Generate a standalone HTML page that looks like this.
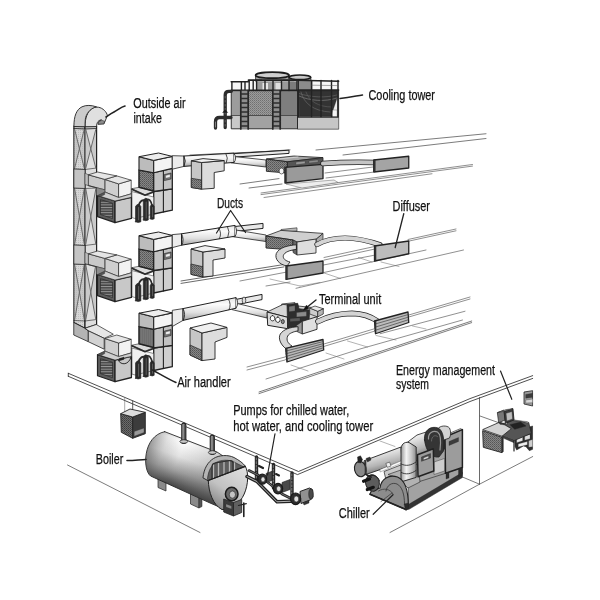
<!DOCTYPE html>
<html><head><meta charset="utf-8"><title>HVAC system</title>
<style>
html,body{margin:0;padding:0;background:#fff;}
svg{display:block;filter:grayscale(1);}
text{font-family:"Liberation Sans",sans-serif;fill:#111;stroke:#111;stroke-width:0.25px;}
</style></head><body>
<svg width="600" height="600" viewBox="0 0 600 600">
<defs>
<pattern id="dots" width="2" height="2" patternUnits="userSpaceOnUse"><rect width="2" height="2" fill="#d6d6d6"/><rect width="1" height="1" fill="#bdbdbd"/></pattern>
<pattern id="hatch" width="2" height="2" patternUnits="userSpaceOnUse"><rect width="2" height="2" fill="#868686"/><rect width="1" height="1" fill="#555"/><rect x="1" y="1" width="1" height="1" fill="#666"/></pattern>
<pattern id="hatchL" width="2" height="2" patternUnits="userSpaceOnUse"><rect width="2" height="2" fill="#9c9c9c"/><rect width="1" height="1" fill="#707070"/><rect x="1" y="1" width="1" height="1" fill="#828282"/></pattern>
<pattern id="hatchD" width="2" height="2" patternUnits="userSpaceOnUse"><rect width="2" height="2" fill="#6c6c6c"/><rect width="1" height="1" fill="#3c3c3c"/><rect x="1" y="1" width="1" height="1" fill="#4a4a4a"/></pattern>
<pattern id="slats" width="4" height="2.6" patternUnits="userSpaceOnUse"><rect width="4" height="2.6" fill="#444"/><rect y="0" width="4" height="1" fill="#999"/></pattern>
<linearGradient id="cyl" x1="0" y1="0" x2="0" y2="1"><stop offset="0" stop-color="#e4e4e4"/><stop offset="0.3" stop-color="#fbfbfb"/><stop offset="0.65" stop-color="#e0e0e0"/><stop offset="1" stop-color="#a4a4a4"/></linearGradient>
</defs>
<rect width="600" height="600" fill="#fff"/>
<line x1="190.00" y1="155.00" x2="286.00" y2="150.60" stroke="#444" stroke-width="0.7" stroke-linecap="round" />
<line x1="236.00" y1="153.50" x2="290.00" y2="149.80" stroke="#444" stroke-width="0.7" stroke-linecap="round" />
<line x1="316.00" y1="150.00" x2="486.00" y2="133.75" stroke="#444" stroke-width="0.7" stroke-linecap="round" />
<line x1="343.00" y1="155.00" x2="486.00" y2="138.50" stroke="#444" stroke-width="0.7" stroke-linecap="round" />
<line x1="240.00" y1="184.00" x2="279.00" y2="178.60" stroke="#444" stroke-width="0.7" stroke-linecap="round" />
<line x1="249.00" y1="188.00" x2="282.00" y2="184.00" stroke="#444" stroke-width="0.7" stroke-linecap="round" />
<line x1="261.00" y1="193.00" x2="472.50" y2="164.50" stroke="#444" stroke-width="0.6" stroke-linecap="round" />
<line x1="261.00" y1="194.60" x2="472.50" y2="166.10" stroke="#444" stroke-width="0.6" stroke-linecap="round" />
<line x1="264.00" y1="197.50" x2="432.00" y2="173.75" stroke="#444" stroke-width="0.6" stroke-linecap="round" />
<line x1="325.00" y1="173.00" x2="373.00" y2="167.00" stroke="#444" stroke-width="0.6" stroke-linecap="round" />
<line x1="326.00" y1="178.00" x2="373.00" y2="172.20" stroke="#444" stroke-width="0.6" stroke-linecap="round" />
<line x1="181.00" y1="281.00" x2="284.00" y2="264.50" stroke="#444" stroke-width="0.8" stroke-linecap="round" />
<line x1="181.00" y1="283.40" x2="284.00" y2="266.90" stroke="#444" stroke-width="0.8" stroke-linecap="round" />
<line x1="240.00" y1="281.00" x2="373.50" y2="255.40" stroke="#444" stroke-width="0.6" stroke-linecap="round" />
<line x1="266.00" y1="286.00" x2="290.00" y2="282.00" stroke="#444" stroke-width="0.6" stroke-linecap="round" />
<line x1="324.00" y1="257.50" x2="375.00" y2="246.40" stroke="#444" stroke-width="0.6" stroke-linecap="round" />
<line x1="324.00" y1="260.10" x2="375.00" y2="249.00" stroke="#444" stroke-width="0.6" stroke-linecap="round" />
<line x1="408.00" y1="239.50" x2="456.00" y2="229.00" stroke="#444" stroke-width="0.6" stroke-linecap="round" />
<line x1="408.00" y1="241.30" x2="456.00" y2="230.80" stroke="#444" stroke-width="0.6" stroke-linecap="round" />
<line x1="324.00" y1="272.50" x2="426.00" y2="250.00" stroke="#444" stroke-width="0.6" stroke-linecap="round" />
<line x1="296.00" y1="288.30" x2="463.50" y2="250.00" stroke="#444" stroke-width="0.6" stroke-linecap="round" />
<line x1="358.50" y1="257.50" x2="372.00" y2="262.00" stroke="#666" stroke-width="0.5" stroke-linecap="round" />
<line x1="381.00" y1="262.00" x2="399.00" y2="266.50" stroke="#666" stroke-width="0.5" stroke-linecap="round" />
<line x1="322.50" y1="272.50" x2="340.50" y2="278.50" stroke="#666" stroke-width="0.5" stroke-linecap="round" />
<line x1="270.00" y1="279.00" x2="300.00" y2="286.00" stroke="#666" stroke-width="0.5" stroke-linecap="round" />
<line x1="300.00" y1="286.00" x2="320.00" y2="282.50" stroke="#666" stroke-width="0.5" stroke-linecap="round" />
<line x1="247.00" y1="367.00" x2="285.00" y2="357.00" stroke="#444" stroke-width="0.6" stroke-linecap="round" />
<line x1="247.00" y1="370.00" x2="285.00" y2="360.00" stroke="#444" stroke-width="0.6" stroke-linecap="round" />
<line x1="324.00" y1="344.00" x2="374.50" y2="328.75" stroke="#444" stroke-width="0.6" stroke-linecap="round" />
<line x1="324.00" y1="346.40" x2="374.50" y2="331.15" stroke="#444" stroke-width="0.6" stroke-linecap="round" />
<line x1="408.75" y1="315.00" x2="470.00" y2="297.00" stroke="#444" stroke-width="0.6" stroke-linecap="round" />
<line x1="408.75" y1="317.00" x2="470.00" y2="299.00" stroke="#444" stroke-width="0.6" stroke-linecap="round" />
<line x1="380.00" y1="333.75" x2="465.00" y2="311.25" stroke="#444" stroke-width="0.6" stroke-linecap="round" />
<path d="M266,379 L360,349 L462.5,320" fill="none" stroke="#444" stroke-width="0.6" stroke-linejoin="round" stroke-linecap="round" />
<line x1="259.00" y1="392.00" x2="471.70" y2="321.00" stroke="#444" stroke-width="0.7" stroke-linecap="round" />
<line x1="259.00" y1="393.60" x2="471.70" y2="322.60" stroke="#444" stroke-width="0.7" stroke-linecap="round" />
<line x1="291.00" y1="365.00" x2="308.00" y2="371.00" stroke="#666" stroke-width="0.5" stroke-linecap="round" />
<line x1="326.00" y1="353.00" x2="344.00" y2="359.00" stroke="#666" stroke-width="0.5" stroke-linecap="round" />
<line x1="347.50" y1="341.00" x2="367.50" y2="347.00" stroke="#666" stroke-width="0.5" stroke-linecap="round" />
<line x1="376.00" y1="335.50" x2="396.00" y2="340.00" stroke="#666" stroke-width="0.5" stroke-linecap="round" />
<line x1="412.50" y1="326.00" x2="426.00" y2="329.00" stroke="#666" stroke-width="0.5" stroke-linecap="round" />
<path d="M68.3,373.3 L298.5,471.5 L470,398.6 L532.8,375.6" fill="none" stroke="#222" stroke-width="0.8" stroke-linejoin="round" stroke-linecap="round" />
<path d="M68.3,376.3 L297.5,474.6 L470,401.5 L532.8,378.4" fill="none" stroke="#222" stroke-width="0.8" stroke-linejoin="round" stroke-linecap="round" />
<line x1="68.30" y1="373.30" x2="68.30" y2="376.30" stroke="#222" stroke-width="0.8" stroke-linecap="round" />
<line x1="67.50" y1="465.00" x2="200.00" y2="532.50" stroke="#444" stroke-width="0.7" stroke-linecap="round" />
<path d="M390,532.5 L440,505.8 L479.5,484.2 L532.8,456.5" fill="none" stroke="#444" stroke-width="0.7" stroke-linejoin="round" stroke-linecap="round" />
<line x1="479.50" y1="397.50" x2="479.50" y2="484.20" stroke="#444" stroke-width="0.8" stroke-linecap="round" />
<line x1="479.50" y1="484.20" x2="460.80" y2="476.30" stroke="#444" stroke-width="0.7" stroke-linecap="round" />
<line x1="380.00" y1="441.00" x2="395.00" y2="446.50" stroke="#666" stroke-width="0.5" stroke-linecap="round" />
<polygon points="73.90,126.00 85.00,126.50 85.00,328.30 73.90,322.50" fill="url(#dots)" stroke="#222" stroke-width="1.2" stroke-linejoin="round" />
<polygon points="85.00,126.50 96.60,126.00 96.60,324.50 85.00,328.30" fill="#dedede" stroke="#222" stroke-width="1.2" stroke-linejoin="round" />
<path d="M85.0,126.5 C85.0,118 87.5,111.5 92,108.5 C96,106 101,107 104.5,110.5 C106,112 107,113.8 107.4,115.5 L104,123.8 L98,124.2 C98.4,121.6 99.8,120.2 101.6,120 C98.6,120 96.6,122 96.6,126.3 Z" fill="#e0e0e0" stroke="#222" stroke-width="0.9" stroke-linejoin="round" stroke-linecap="round" />
<path d="M73.9,126.2 C73.9,116 76.5,109.5 82,106.8 C86,104.9 91.5,105 96.5,106.9 C91.5,108 87.5,111.5 85.6,117.5 C85.2,120 85.0,123 85.0,126.5 Z" fill="#cbcbcb" stroke="#222" stroke-width="0.9" stroke-linejoin="round" stroke-linecap="round" />
<polygon points="98.00,124.20 98.60,121.80 101.60,120.20 104.60,121.20 104.00,123.80" fill="#8a8a8a" stroke="#222" stroke-width="0.5" stroke-linejoin="round" />
<line x1="73.90" y1="128.40" x2="85.00" y2="128.90" stroke="#222" stroke-width="0.5" stroke-linecap="round" />
<line x1="85.00" y1="128.90" x2="96.60" y2="128.40" stroke="#222" stroke-width="0.5" stroke-linecap="round" />
<line x1="73.90" y1="128.50" x2="85.00" y2="129.00" stroke="#222" stroke-width="0.6" stroke-linecap="round" />
<line x1="85.00" y1="129.00" x2="96.60" y2="128.50" stroke="#222" stroke-width="0.6" stroke-linecap="round" />
<line x1="73.90" y1="169.00" x2="85.00" y2="169.50" stroke="#222" stroke-width="0.6" stroke-linecap="round" />
<line x1="85.00" y1="169.50" x2="96.60" y2="168.00" stroke="#222" stroke-width="0.6" stroke-linecap="round" />
<polygon points="74.50,130.00 79.45,148.75 74.50,167.50" fill="#b9b9b9" stroke="none" stroke-width="0" stroke-linejoin="round" fill-opacity="0.55"/>
<polygon points="84.40,130.00 79.45,148.75 84.40,167.50" fill="#b9b9b9" stroke="none" stroke-width="0" stroke-linejoin="round" fill-opacity="0.55"/>
<line x1="74.70" y1="129.50" x2="84.20" y2="168.00" stroke="#6a6a6a" stroke-width="1.0" stroke-linecap="round" />
<line x1="84.20" y1="129.50" x2="74.70" y2="168.00" stroke="#6a6a6a" stroke-width="1.0" stroke-linecap="round" />
<polygon points="85.60,130.00 90.80,148.75 85.60,167.50" fill="#b9b9b9" stroke="none" stroke-width="0" stroke-linejoin="round" fill-opacity="0.55"/>
<polygon points="96.00,130.00 90.80,148.75 96.00,167.50" fill="#b9b9b9" stroke="none" stroke-width="0" stroke-linejoin="round" fill-opacity="0.55"/>
<line x1="85.80" y1="129.50" x2="95.80" y2="168.00" stroke="#6a6a6a" stroke-width="1.0" stroke-linecap="round" />
<line x1="95.80" y1="129.50" x2="85.80" y2="168.00" stroke="#6a6a6a" stroke-width="1.0" stroke-linecap="round" />
<line x1="73.90" y1="188.00" x2="85.00" y2="188.50" stroke="#222" stroke-width="0.6" stroke-linecap="round" />
<line x1="85.00" y1="188.50" x2="96.60" y2="188.00" stroke="#222" stroke-width="0.6" stroke-linecap="round" />
<line x1="73.90" y1="245.00" x2="85.00" y2="245.50" stroke="#222" stroke-width="0.6" stroke-linecap="round" />
<line x1="85.00" y1="245.50" x2="96.60" y2="244.00" stroke="#222" stroke-width="0.6" stroke-linecap="round" />
<polygon points="74.50,189.50 79.45,216.50 74.50,243.50" fill="#b9b9b9" stroke="none" stroke-width="0" stroke-linejoin="round" fill-opacity="0.55"/>
<polygon points="84.40,189.50 79.45,216.50 84.40,243.50" fill="#b9b9b9" stroke="none" stroke-width="0" stroke-linejoin="round" fill-opacity="0.55"/>
<line x1="74.70" y1="189.00" x2="84.20" y2="244.00" stroke="#6a6a6a" stroke-width="1.0" stroke-linecap="round" />
<line x1="84.20" y1="189.00" x2="74.70" y2="244.00" stroke="#6a6a6a" stroke-width="1.0" stroke-linecap="round" />
<polygon points="85.60,189.50 90.80,216.50 85.60,243.50" fill="#b9b9b9" stroke="none" stroke-width="0" stroke-linejoin="round" fill-opacity="0.55"/>
<polygon points="96.00,189.50 90.80,216.50 96.00,243.50" fill="#b9b9b9" stroke="none" stroke-width="0" stroke-linejoin="round" fill-opacity="0.55"/>
<line x1="85.80" y1="189.00" x2="95.80" y2="244.00" stroke="#6a6a6a" stroke-width="1.0" stroke-linecap="round" />
<line x1="95.80" y1="189.00" x2="85.80" y2="244.00" stroke="#6a6a6a" stroke-width="1.0" stroke-linecap="round" />
<line x1="73.90" y1="264.00" x2="85.00" y2="264.50" stroke="#222" stroke-width="0.6" stroke-linecap="round" />
<line x1="85.00" y1="264.50" x2="96.60" y2="264.00" stroke="#222" stroke-width="0.6" stroke-linecap="round" />
<line x1="73.90" y1="320.50" x2="85.00" y2="321.00" stroke="#222" stroke-width="0.6" stroke-linecap="round" />
<line x1="85.00" y1="321.00" x2="96.60" y2="319.50" stroke="#222" stroke-width="0.6" stroke-linecap="round" />
<polygon points="74.50,265.50 79.45,292.25 74.50,319.00" fill="#b9b9b9" stroke="none" stroke-width="0" stroke-linejoin="round" fill-opacity="0.55"/>
<polygon points="84.40,265.50 79.45,292.25 84.40,319.00" fill="#b9b9b9" stroke="none" stroke-width="0" stroke-linejoin="round" fill-opacity="0.55"/>
<line x1="74.70" y1="265.00" x2="84.20" y2="319.50" stroke="#6a6a6a" stroke-width="1.0" stroke-linecap="round" />
<line x1="84.20" y1="265.00" x2="74.70" y2="319.50" stroke="#6a6a6a" stroke-width="1.0" stroke-linecap="round" />
<polygon points="85.60,265.50 90.80,292.25 85.60,319.00" fill="#b9b9b9" stroke="none" stroke-width="0" stroke-linejoin="round" fill-opacity="0.55"/>
<polygon points="96.00,265.50 90.80,292.25 96.00,319.00" fill="#b9b9b9" stroke="none" stroke-width="0" stroke-linejoin="round" fill-opacity="0.55"/>
<line x1="85.80" y1="265.00" x2="95.80" y2="319.50" stroke="#6a6a6a" stroke-width="1.0" stroke-linecap="round" />
<line x1="95.80" y1="265.00" x2="85.80" y2="319.50" stroke="#6a6a6a" stroke-width="1.0" stroke-linecap="round" />
<polygon points="73.90,169.00 85.00,169.50 85.00,188.50 73.90,188.00" fill="#c4c4c4" stroke="#222" stroke-width="0.7" stroke-linejoin="round" />
<polygon points="73.90,245.00 85.00,245.50 85.00,264.50 73.90,264.00" fill="#c4c4c4" stroke="#222" stroke-width="0.7" stroke-linejoin="round" />
<g transform="translate(0,-79)">
<polygon points="153.70,270.50 172.30,267.80 172.30,289.20 153.70,293.00" fill="#cfcfcf" stroke="#222" stroke-width="1.3" stroke-linejoin="round" />
<line x1="163.40" y1="269.30" x2="163.40" y2="291.00" stroke="#222" stroke-width="1.1" stroke-linecap="round" />
<polygon points="131.70,270.50 153.70,276.00 153.70,293.00 135.00,297.50 131.70,296.50" fill="#f0f0f0" stroke="#222" stroke-width="0.5" stroke-linejoin="round" />
<polygon points="131.70,267.70 139.00,266.30 153.70,270.30 145.00,273.70" fill="#dcdcdc" stroke="#222" stroke-width="0.6" stroke-linejoin="round" />
<path d="M131.7,268.2 L145,274.2 L153.7,271" fill="none" stroke="#2a2a2a" stroke-width="1.5" stroke-linejoin="round" stroke-linecap="round" />
<line x1="131.70" y1="268.00" x2="131.70" y2="296.50" stroke="#222" stroke-width="0.6" stroke-linecap="round" />
<polygon points="139.00,249.00 153.70,251.70 153.70,270.00 139.00,266.30" fill="url(#hatch)" stroke="#222" stroke-width="1.5" stroke-linejoin="round" />
<polygon points="153.70,251.70 172.30,247.40 172.30,267.80 153.70,270.50" fill="#c2c2c2" stroke="#222" stroke-width="1.3" stroke-linejoin="round" />
<line x1="163.40" y1="249.60" x2="163.40" y2="269.00" stroke="#222" stroke-width="1.1" stroke-linecap="round" />
<polygon points="164.30,253.60 171.00,252.00 171.00,258.00 164.30,259.60" fill="#777" stroke="#222" stroke-width="0.6" stroke-linejoin="round" />
<polygon points="165.60,254.40 170.20,253.30 170.20,256.20 165.60,257.30" fill="#f0f0f0" stroke="#222" stroke-width="0.3" stroke-linejoin="round" />
<polygon points="139.00,235.70 153.70,239.40 153.70,251.70 139.00,249.00" fill="#bcbcbc" stroke="#222" stroke-width="1.1" stroke-linejoin="round" />
<polygon points="153.70,239.40 172.30,235.40 172.30,247.40 153.70,251.70" fill="#f4f4f4" stroke="#222" stroke-width="1.1" stroke-linejoin="round" />
<polygon points="139.00,235.70 158.50,232.00 172.30,235.40 153.70,239.40" fill="#ededed" stroke="#222" stroke-width="1.0" stroke-linejoin="round" />
<path d="M135.5,300.8 L135.5,285.5 Q138.2,281.0 140.89999999999998,285.5 L140.89999999999998,300.8 Q138.2,302.3 135.5,300.8 Z" fill="#2a2a2a" stroke="#222" stroke-width="0.6" stroke-linejoin="round" stroke-linecap="round" />
<line x1="138.60" y1="286.50" x2="138.60" y2="298.80" stroke="#777" stroke-width="0.7" stroke-linecap="round" />
<path d="M143.3,299 L143.3,279.5 Q145.8,275.0 148.3,279.5 L148.3,299 Q145.8,300.5 143.3,299 Z" fill="#2a2a2a" stroke="#222" stroke-width="0.6" stroke-linejoin="round" stroke-linecap="round" />
<line x1="146.20" y1="280.50" x2="146.20" y2="297.00" stroke="#777" stroke-width="0.7" stroke-linecap="round" />
<path d="M150.2,297.8 L150.2,285.5 Q152.2,281.0 154.2,285.5 L154.2,297.8 Q152.2,299.3 150.2,297.8 Z" fill="#2a2a2a" stroke="#222" stroke-width="0.6" stroke-linejoin="round" stroke-linecap="round" />
<line x1="152.60" y1="286.50" x2="152.60" y2="295.80" stroke="#777" stroke-width="0.7" stroke-linecap="round" />
<path d="M138.3,285 Q141,277 145.8,280" fill="none" stroke="#2a2a2a" stroke-width="2.0" stroke-linejoin="round" stroke-linecap="round" />
<path d="M145.8,278.5 Q151,277 152,285" fill="none" stroke="#2a2a2a" stroke-width="1.6" stroke-linejoin="round" stroke-linecap="round" />
<g transform="translate(0,0)">
<polygon points="97.50,274.50 115.00,280.00 115.00,301.60 97.50,295.60" fill="#5c5c5c" stroke="#222" stroke-width="1.2" stroke-linejoin="round" />
<polygon points="100.50,278.50 112.50,282.30 112.50,297.50 100.50,293.50" fill="url(#slats)" stroke="#222" stroke-width="0.6" stroke-linejoin="round" />
<polygon points="115.00,280.00 131.40,276.30 131.40,297.40 115.00,301.60" fill="#c8c8c8" stroke="#222" stroke-width="1.3" stroke-linejoin="round" />
<polygon points="104.80,258.40 118.60,262.90 118.60,276.50 104.80,271.00" fill="#cfcfcf" stroke="#222" stroke-width="0.7" stroke-linejoin="round" />
<polygon points="118.60,262.90 131.20,259.20 131.20,272.80 118.60,276.50" fill="#f2f2f2" stroke="#222" stroke-width="0.7" stroke-linejoin="round" />
<polygon points="104.80,258.40 116.75,254.90 131.20,259.20 118.60,262.90" fill="#e6e6e6" stroke="#222" stroke-width="0.7" stroke-linejoin="round" />
<polygon points="97.50,274.50 104.80,271.00 118.60,276.50 131.40,272.80 131.40,276.30 115.00,280.00" fill="#cfcfcf" stroke="#222" stroke-width="0.6" stroke-linejoin="round" />
<polygon points="97.50,274.50 104.80,271.00 104.80,273.50 101.00,275.60" fill="#555" stroke="#222" stroke-width="0.3" stroke-linejoin="round" />
</g>
<polygon points="88.30,253.80 104.80,258.40 104.80,268.80 88.30,264.60" fill="#c9c9c9" stroke="#222" stroke-width="0.7" stroke-linejoin="round" />
<polygon points="88.30,253.80 97.50,251.00 116.75,254.90 104.80,258.40" fill="#e6e6e6" stroke="#222" stroke-width="0.7" stroke-linejoin="round" />
<polygon points="85.00,252.00 88.30,253.80 88.30,264.60 85.00,263.50" fill="#bdbdbd" stroke="#222" stroke-width="0.5" stroke-linejoin="round" />
<polygon points="88.30,264.60 104.80,268.80 104.80,271.00 97.50,274.50 96.30,274.00 96.30,266.80" fill="#8c8c8c" stroke="#222" stroke-width="0.4" stroke-linejoin="round" />
</g>
<g transform="translate(0,0)">
<polygon points="153.70,270.50 172.30,267.80 172.30,289.20 153.70,293.00" fill="#cfcfcf" stroke="#222" stroke-width="1.3" stroke-linejoin="round" />
<line x1="163.40" y1="269.30" x2="163.40" y2="291.00" stroke="#222" stroke-width="1.1" stroke-linecap="round" />
<polygon points="131.70,270.50 153.70,276.00 153.70,293.00 135.00,297.50 131.70,296.50" fill="#f0f0f0" stroke="#222" stroke-width="0.5" stroke-linejoin="round" />
<polygon points="131.70,267.70 139.00,266.30 153.70,270.30 145.00,273.70" fill="#dcdcdc" stroke="#222" stroke-width="0.6" stroke-linejoin="round" />
<path d="M131.7,268.2 L145,274.2 L153.7,271" fill="none" stroke="#2a2a2a" stroke-width="1.5" stroke-linejoin="round" stroke-linecap="round" />
<line x1="131.70" y1="268.00" x2="131.70" y2="296.50" stroke="#222" stroke-width="0.6" stroke-linecap="round" />
<polygon points="139.00,249.00 153.70,251.70 153.70,270.00 139.00,266.30" fill="url(#hatch)" stroke="#222" stroke-width="1.5" stroke-linejoin="round" />
<polygon points="153.70,251.70 172.30,247.40 172.30,267.80 153.70,270.50" fill="#c2c2c2" stroke="#222" stroke-width="1.3" stroke-linejoin="round" />
<line x1="163.40" y1="249.60" x2="163.40" y2="269.00" stroke="#222" stroke-width="1.1" stroke-linecap="round" />
<polygon points="164.30,253.60 171.00,252.00 171.00,258.00 164.30,259.60" fill="#777" stroke="#222" stroke-width="0.6" stroke-linejoin="round" />
<polygon points="165.60,254.40 170.20,253.30 170.20,256.20 165.60,257.30" fill="#f0f0f0" stroke="#222" stroke-width="0.3" stroke-linejoin="round" />
<polygon points="139.00,235.70 153.70,239.40 153.70,251.70 139.00,249.00" fill="#bcbcbc" stroke="#222" stroke-width="1.1" stroke-linejoin="round" />
<polygon points="153.70,239.40 172.30,235.40 172.30,247.40 153.70,251.70" fill="#f4f4f4" stroke="#222" stroke-width="1.1" stroke-linejoin="round" />
<polygon points="139.00,235.70 158.50,232.00 172.30,235.40 153.70,239.40" fill="#ededed" stroke="#222" stroke-width="1.0" stroke-linejoin="round" />
<path d="M135.5,300.8 L135.5,285.5 Q138.2,281.0 140.89999999999998,285.5 L140.89999999999998,300.8 Q138.2,302.3 135.5,300.8 Z" fill="#2a2a2a" stroke="#222" stroke-width="0.6" stroke-linejoin="round" stroke-linecap="round" />
<line x1="138.60" y1="286.50" x2="138.60" y2="298.80" stroke="#777" stroke-width="0.7" stroke-linecap="round" />
<path d="M143.3,299 L143.3,279.5 Q145.8,275.0 148.3,279.5 L148.3,299 Q145.8,300.5 143.3,299 Z" fill="#2a2a2a" stroke="#222" stroke-width="0.6" stroke-linejoin="round" stroke-linecap="round" />
<line x1="146.20" y1="280.50" x2="146.20" y2="297.00" stroke="#777" stroke-width="0.7" stroke-linecap="round" />
<path d="M150.2,297.8 L150.2,285.5 Q152.2,281.0 154.2,285.5 L154.2,297.8 Q152.2,299.3 150.2,297.8 Z" fill="#2a2a2a" stroke="#222" stroke-width="0.6" stroke-linejoin="round" stroke-linecap="round" />
<line x1="152.60" y1="286.50" x2="152.60" y2="295.80" stroke="#777" stroke-width="0.7" stroke-linecap="round" />
<path d="M138.3,285 Q141,277 145.8,280" fill="none" stroke="#2a2a2a" stroke-width="2.0" stroke-linejoin="round" stroke-linecap="round" />
<path d="M145.8,278.5 Q151,277 152,285" fill="none" stroke="#2a2a2a" stroke-width="1.6" stroke-linejoin="round" stroke-linecap="round" />
<g transform="translate(0,0)">
<polygon points="97.50,274.50 115.00,280.00 115.00,301.60 97.50,295.60" fill="#5c5c5c" stroke="#222" stroke-width="1.2" stroke-linejoin="round" />
<polygon points="100.50,278.50 112.50,282.30 112.50,297.50 100.50,293.50" fill="url(#slats)" stroke="#222" stroke-width="0.6" stroke-linejoin="round" />
<polygon points="115.00,280.00 131.40,276.30 131.40,297.40 115.00,301.60" fill="#c8c8c8" stroke="#222" stroke-width="1.3" stroke-linejoin="round" />
<polygon points="104.80,258.40 118.60,262.90 118.60,276.50 104.80,271.00" fill="#cfcfcf" stroke="#222" stroke-width="0.7" stroke-linejoin="round" />
<polygon points="118.60,262.90 131.20,259.20 131.20,272.80 118.60,276.50" fill="#f2f2f2" stroke="#222" stroke-width="0.7" stroke-linejoin="round" />
<polygon points="104.80,258.40 116.75,254.90 131.20,259.20 118.60,262.90" fill="#e6e6e6" stroke="#222" stroke-width="0.7" stroke-linejoin="round" />
<polygon points="97.50,274.50 104.80,271.00 118.60,276.50 131.40,272.80 131.40,276.30 115.00,280.00" fill="#cfcfcf" stroke="#222" stroke-width="0.6" stroke-linejoin="round" />
<polygon points="97.50,274.50 104.80,271.00 104.80,273.50 101.00,275.60" fill="#555" stroke="#222" stroke-width="0.3" stroke-linejoin="round" />
</g>
<polygon points="88.30,253.80 104.80,258.40 104.80,268.80 88.30,264.60" fill="#c9c9c9" stroke="#222" stroke-width="0.7" stroke-linejoin="round" />
<polygon points="88.30,253.80 97.50,251.00 116.75,254.90 104.80,258.40" fill="#e6e6e6" stroke="#222" stroke-width="0.7" stroke-linejoin="round" />
<polygon points="85.00,252.00 88.30,253.80 88.30,264.60 85.00,263.50" fill="#bdbdbd" stroke="#222" stroke-width="0.5" stroke-linejoin="round" />
<polygon points="88.30,264.60 104.80,268.80 104.80,271.00 97.50,274.50 96.30,274.00 96.30,266.80" fill="#8c8c8c" stroke="#222" stroke-width="0.4" stroke-linejoin="round" />
</g>
<g transform="translate(0,77.5)">
<polygon points="153.70,270.50 172.30,267.80 172.30,289.20 153.70,293.00" fill="#cfcfcf" stroke="#222" stroke-width="1.3" stroke-linejoin="round" />
<line x1="163.40" y1="269.30" x2="163.40" y2="291.00" stroke="#222" stroke-width="1.1" stroke-linecap="round" />
<polygon points="131.70,270.50 153.70,276.00 153.70,293.00 135.00,297.50 131.70,296.50" fill="#f0f0f0" stroke="#222" stroke-width="0.5" stroke-linejoin="round" />
<polygon points="131.70,267.70 139.00,266.30 153.70,270.30 145.00,273.70" fill="#dcdcdc" stroke="#222" stroke-width="0.6" stroke-linejoin="round" />
<path d="M131.7,268.2 L145,274.2 L153.7,271" fill="none" stroke="#2a2a2a" stroke-width="1.5" stroke-linejoin="round" stroke-linecap="round" />
<line x1="131.70" y1="268.00" x2="131.70" y2="296.50" stroke="#222" stroke-width="0.6" stroke-linecap="round" />
<polygon points="139.00,249.00 153.70,251.70 153.70,270.00 139.00,266.30" fill="url(#hatch)" stroke="#222" stroke-width="1.5" stroke-linejoin="round" />
<polygon points="153.70,251.70 172.30,247.40 172.30,267.80 153.70,270.50" fill="#c2c2c2" stroke="#222" stroke-width="1.3" stroke-linejoin="round" />
<line x1="163.40" y1="249.60" x2="163.40" y2="269.00" stroke="#222" stroke-width="1.1" stroke-linecap="round" />
<polygon points="164.30,253.60 171.00,252.00 171.00,258.00 164.30,259.60" fill="#777" stroke="#222" stroke-width="0.6" stroke-linejoin="round" />
<polygon points="165.60,254.40 170.20,253.30 170.20,256.20 165.60,257.30" fill="#f0f0f0" stroke="#222" stroke-width="0.3" stroke-linejoin="round" />
<polygon points="139.00,235.70 153.70,239.40 153.70,251.70 139.00,249.00" fill="#bcbcbc" stroke="#222" stroke-width="1.1" stroke-linejoin="round" />
<polygon points="153.70,239.40 172.30,235.40 172.30,247.40 153.70,251.70" fill="#f4f4f4" stroke="#222" stroke-width="1.1" stroke-linejoin="round" />
<polygon points="139.00,235.70 158.50,232.00 172.30,235.40 153.70,239.40" fill="#ededed" stroke="#222" stroke-width="1.0" stroke-linejoin="round" />
<path d="M135.5,300.8 L135.5,285.5 Q138.2,281.0 140.89999999999998,285.5 L140.89999999999998,300.8 Q138.2,302.3 135.5,300.8 Z" fill="#2a2a2a" stroke="#222" stroke-width="0.6" stroke-linejoin="round" stroke-linecap="round" />
<line x1="138.60" y1="286.50" x2="138.60" y2="298.80" stroke="#777" stroke-width="0.7" stroke-linecap="round" />
<path d="M143.3,299 L143.3,279.5 Q145.8,275.0 148.3,279.5 L148.3,299 Q145.8,300.5 143.3,299 Z" fill="#2a2a2a" stroke="#222" stroke-width="0.6" stroke-linejoin="round" stroke-linecap="round" />
<line x1="146.20" y1="280.50" x2="146.20" y2="297.00" stroke="#777" stroke-width="0.7" stroke-linecap="round" />
<path d="M150.2,297.8 L150.2,285.5 Q152.2,281.0 154.2,285.5 L154.2,297.8 Q152.2,299.3 150.2,297.8 Z" fill="#2a2a2a" stroke="#222" stroke-width="0.6" stroke-linejoin="round" stroke-linecap="round" />
<line x1="152.60" y1="286.50" x2="152.60" y2="295.80" stroke="#777" stroke-width="0.7" stroke-linecap="round" />
<path d="M138.3,285 Q141,277 145.8,280" fill="none" stroke="#2a2a2a" stroke-width="2.0" stroke-linejoin="round" stroke-linecap="round" />
<path d="M145.8,278.5 Q151,277 152,285" fill="none" stroke="#2a2a2a" stroke-width="1.6" stroke-linejoin="round" stroke-linecap="round" />
<g transform="translate(0,2.6)">
<polygon points="97.50,274.50 115.00,280.00 115.00,301.60 97.50,295.60" fill="#5c5c5c" stroke="#222" stroke-width="1.2" stroke-linejoin="round" />
<polygon points="100.50,278.50 112.50,282.30 112.50,297.50 100.50,293.50" fill="url(#slats)" stroke="#222" stroke-width="0.6" stroke-linejoin="round" />
<polygon points="115.00,280.00 131.40,276.30 131.40,297.40 115.00,301.60" fill="#c8c8c8" stroke="#222" stroke-width="1.3" stroke-linejoin="round" />
<polygon points="104.80,258.40 118.60,262.90 118.60,276.50 104.80,271.00" fill="#cfcfcf" stroke="#222" stroke-width="0.7" stroke-linejoin="round" />
<polygon points="118.60,262.90 131.20,259.20 131.20,272.80 118.60,276.50" fill="#f2f2f2" stroke="#222" stroke-width="0.7" stroke-linejoin="round" />
<polygon points="104.80,258.40 116.75,254.90 131.20,259.20 118.60,262.90" fill="#e6e6e6" stroke="#222" stroke-width="0.7" stroke-linejoin="round" />
<polygon points="97.50,274.50 104.80,271.00 118.60,276.50 131.40,272.80 131.40,276.30 115.00,280.00" fill="#cfcfcf" stroke="#222" stroke-width="0.6" stroke-linejoin="round" />
<polygon points="97.50,274.50 104.80,271.00 104.80,273.50 101.00,275.60" fill="#555" stroke="#222" stroke-width="0.3" stroke-linejoin="round" />
</g>
</g>
<polygon points="73.75,322.50 85.00,328.30 88.30,330.80 88.30,341.70 73.75,335.00" fill="#b4b4b4" stroke="#222" stroke-width="0.8" stroke-linejoin="round" />
<polygon points="85.00,328.30 96.25,324.50 113.30,334.20 104.20,338.30 88.30,330.80" fill="#e6e6e6" stroke="#222" stroke-width="0.7" stroke-linejoin="round" />
<polygon points="88.30,330.80 104.20,338.30 104.20,349.20 88.30,341.70" fill="#d2d2d2" stroke="#222" stroke-width="0.8" stroke-linejoin="round" />
<line x1="85.00" y1="328.30" x2="88.30" y2="330.80" stroke="#222" stroke-width="0.6" stroke-linecap="round" />
<path d="M118,360 C121,366 129,365 131,357" fill="none" stroke="#1c1c1c" stroke-width="0.9" stroke-linejoin="round" stroke-linecap="round" />
<polygon points="119.00,358.50 124.00,357.00 124.00,359.50 119.00,361.00" fill="#222" stroke="#222" stroke-width="0.2" stroke-linejoin="round" />
<path d="M255.6,75 L255.6,91 L289,91 L289,75 Z" fill="#a8a8a8" stroke="#222" stroke-width="0.8" stroke-linejoin="round" stroke-linecap="round" />
<ellipse cx="272.3" cy="75.2" rx="16.7" ry="3.0" fill="#cfcfcf" stroke="#1c1c1c" stroke-width="1.7"/>
<path d="M289,77.5 L289,91 L310.8,91 L310.8,77.5 Z" fill="#9a9a9a" stroke="#222" stroke-width="0.8" stroke-linejoin="round" stroke-linecap="round" />
<ellipse cx="299.9" cy="77.3" rx="10.9" ry="2.3" fill="#c8c8c8" stroke="#1c1c1c" stroke-width="1.6"/>
<polygon points="256.00,79.00 262.00,79.00 262.00,90.00 256.00,90.00" fill="#777" stroke="#222" stroke-width="0.0" stroke-linejoin="round" />
<polygon points="283.00,79.00 289.00,79.00 289.00,90.00 283.00,90.00" fill="#888" stroke="#222" stroke-width="0.0" stroke-linejoin="round" />
<polygon points="289.50,80.00 294.00,80.00 294.00,90.00 289.50,90.00" fill="#6a6a6a" stroke="#222" stroke-width="0.0" stroke-linejoin="round" />
<polygon points="297.50,90.00 338.70,90.00 338.70,117.50 297.50,117.50" fill="#4a4a4a" stroke="#222" stroke-width="0.5" stroke-linejoin="round" />
<path d="M299,91 L337.5,91 L337.5,97 L331,116 L300,116 Z" fill="#333" stroke="#222" stroke-width="0.3" stroke-linejoin="round" stroke-linecap="round" />
<path d="M299,96 C310,101 325,102 337,98" fill="none" stroke="#8a8a8a" stroke-width="0.6" stroke-linejoin="round" stroke-linecap="round" />
<path d="M299,93.5 C311,97.5 326,98 337,95" fill="none" stroke="#777" stroke-width="0.5" stroke-linejoin="round" stroke-linecap="round" />
<path d="M301,92 C304,104 314,111 330,112" fill="none" stroke="#6e6e6e" stroke-width="0.6" stroke-linejoin="round" stroke-linecap="round" />
<path d="M306,92 C309,101 318,107 332,107" fill="none" stroke="#6a6a6a" stroke-width="0.5" stroke-linejoin="round" stroke-linecap="round" />
<polygon points="337.50,97.00 337.50,116.00 331.00,116.00" fill="#e9e9e9" stroke="#222" stroke-width="0.3" stroke-linejoin="round" />
<polygon points="332.50,110.00 337.20,110.00 337.20,116.50 332.50,116.50" fill="#f4f4f4" stroke="#222" stroke-width="0.3" stroke-linejoin="round" />
<polygon points="297.50,80.00 338.70,80.00 338.70,90.00 297.50,90.00" fill="#f6f6f6" stroke="#222" stroke-width="0.0" stroke-linejoin="round" />
<polygon points="297.50,80.50 312.50,80.50 312.50,90.00 297.50,90.00" fill="#8c8c8c" stroke="#222" stroke-width="0.0" stroke-linejoin="round" />
<line x1="297.50" y1="80.30" x2="338.70" y2="81.30" stroke="#222" stroke-width="1.5" stroke-linecap="round" />
<line x1="297.50" y1="90.00" x2="338.70" y2="90.00" stroke="#222" stroke-width="1.3" stroke-linecap="round" />
<line x1="298.20" y1="80.50" x2="298.20" y2="117.00" stroke="#222" stroke-width="1.4" stroke-linecap="round" />
<line x1="311.50" y1="80.50" x2="311.50" y2="117.00" stroke="#222" stroke-width="1.4" stroke-linecap="round" />
<line x1="321.00" y1="80.50" x2="321.00" y2="117.00" stroke="#222" stroke-width="1.4" stroke-linecap="round" />
<line x1="331.50" y1="80.50" x2="331.50" y2="117.00" stroke="#222" stroke-width="1.4" stroke-linecap="round" />
<line x1="338.00" y1="80.50" x2="338.00" y2="117.00" stroke="#222" stroke-width="1.4" stroke-linecap="round" />
<line x1="311.50" y1="85.20" x2="338.00" y2="85.60" stroke="#555" stroke-width="0.5" stroke-linecap="round" />
<polygon points="231.25,90.70 240.00,90.70 240.00,115.50 231.25,115.50" fill="#9c9c9c" stroke="#222" stroke-width="0.0" stroke-linejoin="round" />
<polygon points="249.00,90.70 272.00,90.70 272.00,115.50 249.00,115.50" fill="url(#hatchL)" stroke="#222" stroke-width="0.0" stroke-linejoin="round" />
<polygon points="281.00,90.70 297.50,90.70 297.50,115.50 281.00,115.50" fill="#7e7e7e" stroke="#222" stroke-width="0.0" stroke-linejoin="round" />
<polygon points="231.25,115.50 240.00,115.50 240.00,128.80 231.25,128.80" fill="#c9c9c9" stroke="#222" stroke-width="0.0" stroke-linejoin="round" />
<polygon points="249.00,115.50 272.00,115.50 272.00,128.80 249.00,128.80" fill="#a2a2a2" stroke="#222" stroke-width="0.0" stroke-linejoin="round" />
<polygon points="281.00,115.50 297.50,115.50 297.50,128.80 281.00,128.80" fill="#9c9c9c" stroke="#222" stroke-width="0.0" stroke-linejoin="round" />
<polygon points="297.50,117.50 338.70,117.50 338.70,129.20 297.50,129.20" fill="#c6c6c6" stroke="#222" stroke-width="0.6" stroke-linejoin="round" />
<line x1="231.25" y1="115.50" x2="297.50" y2="115.50" stroke="#333" stroke-width="0.8" stroke-linecap="round" />
<polygon points="231.25,90.70 297.50,90.70 297.50,128.80 231.25,128.80" fill="none" stroke="#222" stroke-width="0.9" stroke-linejoin="round" />
<polygon points="231.25,81.60 297.50,81.60 297.50,90.40 231.25,90.40" fill="#f6f6f6" stroke="#222" stroke-width="0.0" stroke-linejoin="round" />
<polygon points="256.00,81.60 289.00,81.60 289.00,90.40 256.00,90.40" fill="#9a9a9a" stroke="#222" stroke-width="0.0" stroke-linejoin="round" />
<polygon points="289.00,81.60 297.50,81.60 297.50,90.40 289.00,90.40" fill="#7c7c7c" stroke="#222" stroke-width="0.0" stroke-linejoin="round" />
<polygon points="262.50,83.00 268.00,83.00 268.00,90.00 262.50,90.00" fill="#e8e8e8" stroke="#222" stroke-width="0.0" stroke-linejoin="round" />
<polygon points="275.50,83.00 281.00,83.00 281.00,90.00 275.50,90.00" fill="#dedede" stroke="#222" stroke-width="0.0" stroke-linejoin="round" />
<line x1="231.25" y1="81.80" x2="248.50" y2="81.80" stroke="#222" stroke-width="1.6" stroke-linecap="round" />
<line x1="248.50" y1="80.20" x2="297.50" y2="80.20" stroke="#222" stroke-width="1.7" stroke-linecap="round" />
<line x1="231.25" y1="90.20" x2="297.50" y2="90.20" stroke="#222" stroke-width="1.5" stroke-linecap="round" />
<line x1="231.90" y1="82.00" x2="231.90" y2="90.50" stroke="#222" stroke-width="1.4" stroke-linecap="round" />
<line x1="241.40" y1="82.00" x2="241.40" y2="90.50" stroke="#222" stroke-width="1.4" stroke-linecap="round" />
<line x1="245.00" y1="82.00" x2="245.00" y2="90.50" stroke="#222" stroke-width="1.4" stroke-linecap="round" />
<line x1="249.20" y1="80.50" x2="249.20" y2="90.50" stroke="#222" stroke-width="1.4" stroke-linecap="round" />
<line x1="253.20" y1="80.50" x2="253.20" y2="90.50" stroke="#222" stroke-width="1.4" stroke-linecap="round" />
<line x1="256.60" y1="80.50" x2="256.60" y2="90.50" stroke="#222" stroke-width="1.4" stroke-linecap="round" />
<line x1="265.00" y1="80.50" x2="265.00" y2="90.50" stroke="#222" stroke-width="1.4" stroke-linecap="round" />
<line x1="273.00" y1="80.50" x2="273.00" y2="90.50" stroke="#222" stroke-width="1.4" stroke-linecap="round" />
<line x1="281.50" y1="80.50" x2="281.50" y2="90.50" stroke="#222" stroke-width="1.4" stroke-linecap="round" />
<line x1="289.00" y1="80.50" x2="289.00" y2="90.50" stroke="#222" stroke-width="1.4" stroke-linecap="round" />
<line x1="297.00" y1="80.50" x2="297.00" y2="90.50" stroke="#222" stroke-width="1.4" stroke-linecap="round" />
<polygon points="240.00,90.70 249.00,90.70 249.00,128.80 240.00,128.80" fill="#8e8e8e" stroke="#222" stroke-width="0.0" stroke-linejoin="round" />
<line x1="240.80" y1="90.50" x2="240.80" y2="129.00" stroke="#262626" stroke-width="1.7" stroke-linecap="round" />
<line x1="248.20" y1="90.50" x2="248.20" y2="129.00" stroke="#262626" stroke-width="1.7" stroke-linecap="round" />
<line x1="241.00" y1="94.00" x2="248.00" y2="94.00" stroke="#2e2e2e" stroke-width="1.5" stroke-linecap="round" />
<line x1="241.00" y1="98.50" x2="248.00" y2="98.50" stroke="#2e2e2e" stroke-width="1.5" stroke-linecap="round" />
<line x1="241.00" y1="103.00" x2="248.00" y2="103.00" stroke="#2e2e2e" stroke-width="1.5" stroke-linecap="round" />
<line x1="241.00" y1="107.50" x2="248.00" y2="107.50" stroke="#2e2e2e" stroke-width="1.5" stroke-linecap="round" />
<line x1="241.00" y1="112.00" x2="248.00" y2="112.00" stroke="#2e2e2e" stroke-width="1.5" stroke-linecap="round" />
<line x1="241.00" y1="116.50" x2="248.00" y2="116.50" stroke="#2e2e2e" stroke-width="1.5" stroke-linecap="round" />
<line x1="241.00" y1="121.50" x2="248.00" y2="121.50" stroke="#2e2e2e" stroke-width="1.5" stroke-linecap="round" />
<line x1="241.00" y1="126.00" x2="248.00" y2="126.00" stroke="#2e2e2e" stroke-width="1.5" stroke-linecap="round" />
<polygon points="272.00,90.70 281.00,90.70 281.00,128.80 272.00,128.80" fill="#8e8e8e" stroke="#222" stroke-width="0.0" stroke-linejoin="round" />
<line x1="272.80" y1="90.50" x2="272.80" y2="129.00" stroke="#262626" stroke-width="1.7" stroke-linecap="round" />
<line x1="280.20" y1="90.50" x2="280.20" y2="129.00" stroke="#262626" stroke-width="1.7" stroke-linecap="round" />
<line x1="273.00" y1="94.00" x2="280.00" y2="94.00" stroke="#2e2e2e" stroke-width="1.5" stroke-linecap="round" />
<line x1="273.00" y1="98.50" x2="280.00" y2="98.50" stroke="#2e2e2e" stroke-width="1.5" stroke-linecap="round" />
<line x1="273.00" y1="103.00" x2="280.00" y2="103.00" stroke="#2e2e2e" stroke-width="1.5" stroke-linecap="round" />
<line x1="273.00" y1="107.50" x2="280.00" y2="107.50" stroke="#2e2e2e" stroke-width="1.5" stroke-linecap="round" />
<line x1="273.00" y1="112.00" x2="280.00" y2="112.00" stroke="#2e2e2e" stroke-width="1.5" stroke-linecap="round" />
<line x1="273.00" y1="116.50" x2="280.00" y2="116.50" stroke="#2e2e2e" stroke-width="1.5" stroke-linecap="round" />
<line x1="273.00" y1="121.50" x2="280.00" y2="121.50" stroke="#2e2e2e" stroke-width="1.5" stroke-linecap="round" />
<line x1="273.00" y1="126.00" x2="280.00" y2="126.00" stroke="#2e2e2e" stroke-width="1.5" stroke-linecap="round" />
<path d="M225.2,127.5 L225.2,95 Q225.2,91.3 229,91.3 L231.3,91.3" fill="none" stroke="#2c2c2c" stroke-width="3.3" stroke-linejoin="round" stroke-linecap="round" />
<path d="M225.2,126 L225.2,96" fill="none" stroke="#6e6e6e" stroke-width="0.8" stroke-linejoin="round" stroke-linecap="round" stroke-dasharray="1.5 2.5"/>
<path d="M215.5,128 L215.5,121.5 Q215.5,117.5 219.5,117.5 L231,117.5" fill="none" stroke="#2c2c2c" stroke-width="3.3" stroke-linejoin="round" stroke-linecap="round" />
<path d="M215.5,127 L215.5,122" fill="none" stroke="#8a8a8a" stroke-width="0.9" stroke-linejoin="round" stroke-linecap="round" />
<polygon points="222.60,112.50 225.20,109.80 227.80,112.50" fill="#1c1c1c" stroke="#222" stroke-width="0.4" stroke-linejoin="round" />
<polygon points="172.30,155.70 184.00,156.00 184.00,166.40 172.30,169.20" fill="#ececec" stroke="#222" stroke-width="0.8" stroke-linejoin="round" />
<polygon points="233.00,153.70 289.00,150.20 289.00,153.40 233.00,157.20" fill="#e8e8e8" stroke="#222" stroke-width="1.0" stroke-linejoin="round" />
<polygon points="231.00,156.20 266.00,160.00 266.00,167.00 231.00,162.80" fill="url(#cyl)" stroke="#222" stroke-width="0.8" stroke-linejoin="round" />
<polygon points="184.00,156.00 234.00,153.20 234.00,162.40 184.00,166.40" fill="url(#cyl)" stroke="#222" stroke-width="1.0" stroke-linejoin="round" />
<path d="M184,156 Q186.8,161 184,166.4" fill="none" stroke="#222" stroke-width="0.9" stroke-linejoin="round" stroke-linecap="round" />
<path d="M226,153.9 Q228.6,158 226.4,162.5" fill="none" stroke="#222" stroke-width="0.8" stroke-linejoin="round" stroke-linecap="round" />
<path d="M234,153.4 Q237.5,158 234,162.6" fill="#e4e4e4" stroke="#222" stroke-width="0.8" stroke-linejoin="round" stroke-linecap="round" />
<polygon points="191.30,160.80 201.70,162.50 201.70,189.20 191.30,187.50" fill="#c6c6c6" stroke="#222" stroke-width="0.9" stroke-linejoin="round" />
<polygon points="191.30,178.30 201.70,180.00 201.70,189.20 191.30,187.50" fill="url(#hatch)" stroke="#222" stroke-width="0.7" stroke-linejoin="round" />
<polygon points="201.70,162.50 224.20,160.60 224.20,170.80 214.20,172.50 214.20,188.30 201.70,189.20" fill="#dcdcdc" stroke="#222" stroke-width="0.9" stroke-linejoin="round" />
<polygon points="191.30,160.80 203.00,158.60 224.20,160.60 201.70,162.50" fill="#f0f0f0" stroke="#222" stroke-width="0.9" stroke-linejoin="round" />
<polygon points="266.40,159.00 293.80,156.00 323.00,157.60 287.40,161.80" fill="#a6a6a6" stroke="#222" stroke-width="0.8" stroke-linejoin="round" />
<line x1="275.00" y1="159.40" x2="298.00" y2="157.00" stroke="#dcdcdc" stroke-width="0.8" stroke-linecap="round" />
<polygon points="287.40,161.80 323.00,157.60 323.00,165.00 287.40,168.00" fill="#555" stroke="#222" stroke-width="0.8" stroke-linejoin="round" />
<polygon points="296.00,162.30 305.00,161.30 305.00,163.40 296.00,164.40" fill="#9c9c9c" stroke="#222" stroke-width="0.2" stroke-linejoin="round" />
<polygon points="309.00,160.90 318.00,159.90 318.00,162.00 309.00,163.00" fill="#8c8c8c" stroke="#222" stroke-width="0.2" stroke-linejoin="round" />
<polygon points="266.40,159.00 287.40,161.80 287.00,173.00 266.40,171.30" fill="url(#hatch)" stroke="#222" stroke-width="0.9" stroke-linejoin="round" />
<ellipse cx="281.5" cy="171" rx="2.4" ry="3" fill="#f4f4f4" stroke="#222" stroke-width="0.6" transform="rotate(0 281.5 171)"/>
<polygon points="286.00,184.00 334.00,180.00 338.00,182.40 302.00,188.00" fill="#eee" stroke="#666" stroke-width="0.5" stroke-linejoin="round" />
<polygon points="285.00,167.30 323.00,164.30 323.00,178.60 285.00,183.00" fill="#9a9a9a" stroke="#222" stroke-width="1.3" stroke-linejoin="round" />
<polygon points="285.00,167.30 286.60,167.10 286.60,182.80 285.00,183.00" fill="#333" stroke="#222" stroke-width="0.3" stroke-linejoin="round" />
<path d="M323,163.5 C340,162.3 357,162 374,162.5" fill="none" stroke="#222" stroke-width="5.4" stroke-linejoin="round" stroke-linecap="round" />
<path d="M323,163.5 C340,162.3 357,162 374,162.5" fill="none" stroke="#c4c4c4" stroke-width="4.0" stroke-linejoin="round" stroke-linecap="round" />
<polygon points="373.75,160.00 408.75,156.25 408.75,168.00 373.75,172.00" fill="#a4a4a4" stroke="#222" stroke-width="1.3" stroke-linejoin="round" />
<polygon points="373.75,160.00 375.35,159.80 375.35,171.80 373.75,172.00" fill="#333" stroke="#222" stroke-width="0.3" stroke-linejoin="round" />
<polygon points="172.30,234.60 181.50,233.80 181.50,245.20 172.30,247.60" fill="#ececec" stroke="#222" stroke-width="0.8" stroke-linejoin="round" />
<polygon points="234.00,226.60 263.00,223.40 263.00,228.40 234.00,231.60" fill="#e8e8e8" stroke="#222" stroke-width="1.0" stroke-linejoin="round" />
<polygon points="231.00,229.20 266.00,235.00 266.00,241.50 231.00,236.40" fill="url(#cyl)" stroke="#222" stroke-width="0.8" stroke-linejoin="round" />
<polygon points="181.50,233.80 235.00,225.40 235.00,236.20 181.50,245.20" fill="url(#cyl)" stroke="#222" stroke-width="1.0" stroke-linejoin="round" />
<path d="M181.5,233.8 Q184.6,239.5 181.8,245.2" fill="none" stroke="#222" stroke-width="0.9" stroke-linejoin="round" stroke-linecap="round" />
<path d="M218.5,227.9 Q222.3,233 219.3,238.8" fill="none" stroke="#222" stroke-width="0.8" stroke-linejoin="round" stroke-linecap="round" />
<path d="M227.5,226.6 Q230.4,231.6 227.8,237.4" fill="none" stroke="#222" stroke-width="0.8" stroke-linejoin="round" stroke-linecap="round" />
<path d="M235,225.6 Q238.4,231 235,236.8" fill="#e4e4e4" stroke="#222" stroke-width="0.8" stroke-linejoin="round" stroke-linecap="round" />
<polygon points="191.00,249.00 203.00,252.00 203.00,277.00 191.00,274.40" fill="#c6c6c6" stroke="#222" stroke-width="0.9" stroke-linejoin="round" />
<polygon points="191.00,264.00 203.00,266.76 203.00,277.00 191.00,274.40" fill="url(#hatch)" stroke="#222" stroke-width="0.7" stroke-linejoin="round" />
<polygon points="203.00,252.00 225.00,249.00 225.00,258.00 213.00,260.00 213.00,276.00 203.00,277.00" fill="#dcdcdc" stroke="#222" stroke-width="0.9" stroke-linejoin="round" />
<polygon points="191.00,249.00 205.00,245.60 225.00,249.00 203.00,252.00" fill="#f0f0f0" stroke="#222" stroke-width="0.9" stroke-linejoin="round" />
<polygon points="281.00,229.50 297.00,227.80 297.00,231.00 281.00,232.50" fill="#bbb" stroke="#222" stroke-width="0.6" stroke-linejoin="round" />
<polygon points="266.00,236.00 281.00,230.40 323.00,233.40 316.00,239.40 297.00,242.00 293.00,240.00" fill="#cfcfcf" stroke="#222" stroke-width="0.8" stroke-linejoin="round" />
<polygon points="266.00,236.00 293.00,240.00 293.00,250.00 266.00,248.00" fill="url(#hatch)" stroke="#222" stroke-width="0.9" stroke-linejoin="round" />
<polygon points="316.00,239.40 323.00,233.40 323.00,240.00 316.00,246.00" fill="#aaa" stroke="#222" stroke-width="0.7" stroke-linejoin="round" />
<polygon points="293.00,240.00 297.00,242.00 297.00,255.00 293.00,252.50" fill="#666" stroke="#222" stroke-width="0.6" stroke-linejoin="round" />
<polygon points="297.00,242.00 316.00,239.00 316.00,253.00 297.00,255.00" fill="#dedede" stroke="#222" stroke-width="0.8" stroke-linejoin="round" />
<path d="M296,244.8 C288,245.4 279,247.5 276.3,253.5 C274.5,259 279,264.5 287,266 L290,262 C285.5,261 282.6,258.5 283.4,255.5 C284.5,252 290,250.2 296,249.4 Z" fill="#d6d6d6" stroke="#222" stroke-width="0.9" stroke-linejoin="round" stroke-linecap="round" />
<polygon points="286.00,266.00 323.00,261.00 323.00,273.00 286.00,279.40" fill="#a0a0a0" stroke="#222" stroke-width="1.3" stroke-linejoin="round" />
<polygon points="286.00,266.00 287.60,265.80 287.60,279.20 286.00,279.40" fill="#333" stroke="#222" stroke-width="0.3" stroke-linejoin="round" />
<path d="M317,244.5 C324,240.5 334,238 345,238 C357,238.2 368,240.6 380,244.8" fill="none" stroke="#222" stroke-width="5.199999999999999" stroke-linejoin="round" stroke-linecap="round" />
<path d="M317,244.5 C324,240.5 334,238 345,238 C357,238.2 368,240.6 380,244.8" fill="none" stroke="#d4d4d4" stroke-width="3.8" stroke-linejoin="round" stroke-linecap="round" />
<polygon points="374.50,246.00 408.75,241.00 408.75,253.75 374.50,261.00" fill="#bcbcbc" stroke="#222" stroke-width="1.3" stroke-linejoin="round" />
<polygon points="374.50,246.00 376.10,245.80 376.10,260.80 374.50,261.00" fill="#333" stroke="#222" stroke-width="0.3" stroke-linejoin="round" />
<polygon points="172.30,310.30 183.00,308.60 183.00,320.40 172.30,326.50" fill="#ececec" stroke="#222" stroke-width="0.8" stroke-linejoin="round" />
<polygon points="236.00,299.40 262.00,294.40 262.00,299.60 236.00,304.80" fill="#e8e8e8" stroke="#222" stroke-width="1.0" stroke-linejoin="round" />
<ellipse cx="244" cy="300.3" rx="1.8" ry="3.3" fill="#ddd" stroke="#222" stroke-width="0.7" transform="rotate(0 244 300.3)"/>
<polygon points="232.00,302.20 268.00,311.00 267.00,318.00 232.00,309.60" fill="url(#cyl)" stroke="#222" stroke-width="0.8" stroke-linejoin="round" />
<polygon points="183.00,308.60 236.00,297.60 236.00,308.20 183.00,320.40" fill="url(#cyl)" stroke="#222" stroke-width="1.0" stroke-linejoin="round" />
<path d="M183,308.6 Q186.2,314.5 183.2,320.4" fill="none" stroke="#222" stroke-width="0.9" stroke-linejoin="round" stroke-linecap="round" />
<path d="M228.5,299.2 Q231.6,304.4 229,309.8" fill="none" stroke="#222" stroke-width="0.8" stroke-linejoin="round" stroke-linecap="round" />
<path d="M236,297.6 Q239.6,303 236,308.2" fill="#e4e4e4" stroke="#222" stroke-width="0.8" stroke-linejoin="round" stroke-linecap="round" />
<polygon points="190.00,328.00 202.00,333.00 202.00,360.60 190.00,355.00" fill="#c6c6c6" stroke="#222" stroke-width="0.9" stroke-linejoin="round" />
<polygon points="190.00,345.00 202.00,350.38 202.00,360.60 190.00,355.00" fill="url(#hatch)" stroke="#222" stroke-width="0.7" stroke-linejoin="round" />
<polygon points="202.00,333.00 227.00,327.40 227.00,337.40 215.00,342.00 215.00,359.00 202.00,360.60" fill="#dcdcdc" stroke="#222" stroke-width="0.9" stroke-linejoin="round" />
<polygon points="190.00,328.00 211.00,323.00 227.00,327.40 202.00,333.00" fill="#f0f0f0" stroke="#222" stroke-width="0.9" stroke-linejoin="round" />
<polygon points="281.70,304.00 295.00,302.60 295.00,306.50 281.70,307.80" fill="#b4b4b4" stroke="#222" stroke-width="0.7" stroke-linejoin="round" />
<polygon points="267.00,312.00 283.00,304.40 323.30,308.70 317.70,317.00 299.00,323.00 287.70,317.30" fill="#d6d6d6" stroke="#222" stroke-width="0.8" stroke-linejoin="round" />
<polygon points="267.00,312.00 287.70,317.30 287.70,328.70 267.70,325.30" fill="#dadada" stroke="#222" stroke-width="1.0" stroke-linejoin="round" />
<path d="M272.5,315.5 a2.3,2.7 0 1 0 0.1,0 Z M277.8,317 a2.3,2.7 0 1 0 0.1,0 Z" fill="#fff" stroke="#222" stroke-width="0.9" stroke-linejoin="round" stroke-linecap="round" />
<ellipse cx="282.8" cy="321.6" rx="1.5" ry="2.1" fill="#8a8a8a" stroke="#222" stroke-width="0.8" transform="rotate(0 282.8 321.6)"/>
<polygon points="287.00,304.70 297.70,303.30 299.00,308.70 309.70,310.00 309.00,321.30 303.00,322.00 302.30,326.70 291.70,327.30 287.70,328.70" fill="#2e2e2e" stroke="#222" stroke-width="0.7" stroke-linejoin="round" />
<polygon points="289.00,306.40 295.00,305.60 295.00,311.00 289.00,311.80" fill="#7a7a7a" stroke="#222" stroke-width="0.3" stroke-linejoin="round" />
<polygon points="296.50,312.40 306.50,311.60 306.50,316.20 296.50,317.00" fill="#8a8a8a" stroke="#222" stroke-width="0.3" stroke-linejoin="round" />
<polygon points="290.00,318.50 300.00,317.70 300.00,321.00 290.00,321.80" fill="#5a5a5a" stroke="#222" stroke-width="0.3" stroke-linejoin="round" />
<polygon points="309.70,308.00 317.70,311.30 317.70,316.90 309.70,314.00" fill="#cdcdcd" stroke="#222" stroke-width="0.7" stroke-linejoin="round" />
<polygon points="317.70,311.30 323.30,308.70 323.30,314.00 317.70,316.90" fill="#b4b4b4" stroke="#222" stroke-width="0.7" stroke-linejoin="round" />
<polygon points="309.70,308.00 315.00,306.00 323.30,308.70 317.70,311.30" fill="#e6e6e6" stroke="#222" stroke-width="0.7" stroke-linejoin="round" />
<polygon points="296.30,325.50 302.30,321.30 302.30,334.00 296.30,331.20" fill="#9a9a9a" stroke="#222" stroke-width="0.7" stroke-linejoin="round" />
<polygon points="302.30,321.30 317.00,316.70 317.00,329.30 302.30,334.00" fill="#e0e0e0" stroke="#222" stroke-width="0.9" stroke-linejoin="round" />
<path d="M297.7,326.7 C289.7,327.3 283.7,329.3 280.3,334 C277.7,338.7 281,345.5 287,349.5 L292,346 C287.7,343.3 286,340 287.7,336 C289,333.3 293.7,331.6 297.7,330.9 Z" fill="#d6d6d6" stroke="#222" stroke-width="0.9" stroke-linejoin="round" stroke-linecap="round" />
<polygon points="285.70,348.40 323.00,339.50 323.70,350.00 287.00,362.00" fill="#b8b8b8" stroke="#222" stroke-width="1.3" stroke-linejoin="round" />
<line x1="285.70" y1="351.12" x2="323.00" y2="341.60" stroke="#444" stroke-width="0.7" stroke-linecap="round" />
<line x1="285.70" y1="353.84" x2="323.00" y2="343.70" stroke="#444" stroke-width="0.7" stroke-linecap="round" />
<line x1="285.70" y1="356.56" x2="323.00" y2="345.80" stroke="#444" stroke-width="0.7" stroke-linecap="round" />
<line x1="285.70" y1="359.28" x2="323.00" y2="347.90" stroke="#444" stroke-width="0.7" stroke-linecap="round" />
<polygon points="285.70,348.40 287.30,348.20 287.30,361.80 287.00,362.00" fill="#333" stroke="#222" stroke-width="0.3" stroke-linejoin="round" />
<path d="M318,321.5 C326,317.5 338,313.6 352,313.4 C364,313.6 371,316.5 378,321.5" fill="none" stroke="#222" stroke-width="5.6" stroke-linejoin="round" stroke-linecap="round" />
<path d="M318,321.5 C326,317.5 338,313.6 352,313.4 C364,313.6 371,316.5 378,321.5" fill="none" stroke="#d4d4d4" stroke-width="4.2" stroke-linejoin="round" stroke-linecap="round" />
<polygon points="374.50,321.00 408.00,312.00 408.75,322.50 375.50,333.75" fill="#bcbcbc" stroke="#222" stroke-width="1.3" stroke-linejoin="round" />
<line x1="374.50" y1="324.19" x2="408.00" y2="314.62" stroke="#444" stroke-width="0.7" stroke-linecap="round" />
<line x1="374.50" y1="327.38" x2="408.00" y2="317.25" stroke="#444" stroke-width="0.7" stroke-linecap="round" />
<line x1="374.50" y1="330.56" x2="408.00" y2="319.88" stroke="#444" stroke-width="0.7" stroke-linecap="round" />
<polygon points="374.50,321.00 376.10,320.80 376.10,333.55 375.50,333.75" fill="#333" stroke="#222" stroke-width="0.3" stroke-linejoin="round" />
<line x1="124.70" y1="398.00" x2="124.70" y2="411.70" stroke="#555" stroke-width="0.5" stroke-linecap="round" />
<line x1="132.70" y1="401.00" x2="132.70" y2="416.00" stroke="#333" stroke-width="0.8" stroke-linecap="round" />
<polygon points="120.70,413.70 132.70,417.00 132.70,438.30 121.30,432.30" fill="url(#hatchD)" stroke="#222" stroke-width="0.9" stroke-linejoin="round" />
<polygon points="132.70,417.00 145.30,412.30 145.30,433.70 132.70,438.30" fill="#3c3c3c" stroke="#222" stroke-width="0.9" stroke-linejoin="round" />
<polygon points="134.20,431.50 144.00,428.00 144.00,432.50 134.20,436.30" fill="#999" stroke="#222" stroke-width="0.3" stroke-linejoin="round" />
<polygon points="120.70,413.70 130.00,409.00 145.30,412.30 132.70,417.00" fill="#dcdcdc" stroke="#222" stroke-width="0.9" stroke-linejoin="round" />
<defs><linearGradient id="boil" gradientUnits="userSpaceOnUse" x1="196" y1="436" x2="176" y2="492"><stop offset="0" stop-color="#d4d4d4"/><stop offset="0.16" stop-color="#ffffff"/><stop offset="0.42" stop-color="#e2e2e2"/><stop offset="0.66" stop-color="#a0a0a0"/><stop offset="0.86" stop-color="#585858"/><stop offset="1" stop-color="#2c2c2c"/></linearGradient><linearGradient id="boilf" x1="0.8" y1="0" x2="0.2" y2="1"><stop offset="0" stop-color="#dedede"/><stop offset="0.55" stop-color="#c2c2c2"/><stop offset="1" stop-color="#7e7e7e"/></linearGradient></defs>
<polygon points="158.00,476.00 166.00,479.50 166.00,491.00 158.00,487.50" fill="#8a8a8a" stroke="#222" stroke-width="0.7" stroke-linejoin="round" />
<polygon points="190.50,493.00 199.00,497.00 199.00,508.00 190.50,504.00" fill="#8a8a8a" stroke="#222" stroke-width="0.7" stroke-linejoin="round" />
<polygon points="199.00,497.00 202.00,495.50 202.00,506.50 199.00,508.00" fill="#555" stroke="#222" stroke-width="0.5" stroke-linejoin="round" />
<path d="M164.7,431.7 L217,452 L226,458 L224,509 L209,502.5 L150.6,476 C142.5,470 142.5,436 164.7,431.7 Z" fill="url(#boil)" stroke="#222" stroke-width="0.9" stroke-linejoin="round" stroke-linecap="round" />
<defs><linearGradient id="boilL" gradientUnits="userSpaceOnUse" x1="146" y1="452" x2="176" y2="463"><stop offset="0" stop-color="#444" stop-opacity="0.5"/><stop offset="0.5" stop-color="#777" stop-opacity="0.18"/><stop offset="1" stop-color="#888" stop-opacity="0"/></linearGradient><linearGradient id="boilR" gradientUnits="userSpaceOnUse" x1="180" y1="455" x2="212" y2="468"><stop offset="0" stop-color="#777" stop-opacity="0"/><stop offset="1" stop-color="#666" stop-opacity="0.3"/></linearGradient></defs>
<path d="M164.7,431.7 L217,452 L226,458 L224,509 L209,502.5 L150.6,476 C142.5,470 142.5,436 164.7,431.7 Z" fill="url(#boilL)" stroke="#222" stroke-width="0" stroke-linejoin="round" stroke-linecap="round" />
<path d="M164.7,431.7 L217,452 L226,458 L224,509 L209,502.5 L150.6,476 C142.5,470 142.5,436 164.7,431.7 Z" fill="url(#boilR)" stroke="#222" stroke-width="0" stroke-linejoin="round" stroke-linecap="round" />
<line x1="183.80" y1="425.00" x2="183.80" y2="441.50" stroke="#222" stroke-width="5.2" stroke-linecap="round" />
<line x1="183.50" y1="425.00" x2="183.50" y2="441.50" stroke="#8a8a8a" stroke-width="2.6" stroke-linecap="round" />
<line x1="185.00" y1="425.00" x2="185.00" y2="441.50" stroke="#4a4a4a" stroke-width="1.2" stroke-linecap="round" />
<ellipse cx="183.8" cy="441.5" rx="3.9" ry="1.8" fill="#c8c8c8" stroke="#222" stroke-width="0.8"/>
<line x1="212.30" y1="437.00" x2="212.30" y2="452.50" stroke="#222" stroke-width="5.2" stroke-linecap="round" />
<line x1="212.00" y1="437.00" x2="212.00" y2="452.50" stroke="#8a8a8a" stroke-width="2.6" stroke-linecap="round" />
<line x1="213.50" y1="437.00" x2="213.50" y2="452.50" stroke="#4a4a4a" stroke-width="1.2" stroke-linecap="round" />
<ellipse cx="212.3" cy="452.5" rx="3.9" ry="1.8" fill="#c8c8c8" stroke="#222" stroke-width="0.8"/>
<path d="M203,477.5 C204,468 208,462 213.5,458.5 C219,455 228,454.5 234,457.5 C239.5,460.5 243,463 245.5,466.5 L208.3,480.5 Z" fill="#b4b4b4" stroke="#222" stroke-width="0.9" stroke-linejoin="round" stroke-linecap="round" />
<path d="M207.5,478.5 C208.5,470 211.5,465.5 215.5,462.8 C221,459.5 229,459.5 234,462 L243.5,466.8 L208.3,480.5 Z" fill="#5e5e5e" stroke="#222" stroke-width="0.6" stroke-linejoin="round" stroke-linecap="round" />
<line x1="213.50" y1="465.00" x2="213.50" y2="477.50" stroke="#b8b8b8" stroke-width="1.3" stroke-linecap="round" />
<line x1="218.50" y1="462.50" x2="218.50" y2="476.00" stroke="#b8b8b8" stroke-width="1.3" stroke-linecap="round" />
<line x1="224.00" y1="461.50" x2="224.00" y2="474.00" stroke="#b8b8b8" stroke-width="1.3" stroke-linecap="round" />
<line x1="229.50" y1="461.50" x2="229.50" y2="472.00" stroke="#b8b8b8" stroke-width="1.3" stroke-linecap="round" />
<line x1="234.50" y1="463.00" x2="234.50" y2="470.00" stroke="#b8b8b8" stroke-width="1.3" stroke-linecap="round" />
<path d="M212,478.5 L212,466.5 Q212,463.5 215,463 L230,460.5 Q233,460.5 233,463 L233,471" fill="none" stroke="#2c2c2c" stroke-width="1.1" stroke-linejoin="round" stroke-linecap="round" />
<path d="M208.3,480.5 L245.3,466.3 C248.6,472 248.6,484 244.2,494 C240,503.5 232,509.6 222,509.6 C213,505 208.5,492 208.3,480.5 Z" fill="url(#boilf)" stroke="#222" stroke-width="1.0" stroke-linejoin="round" stroke-linecap="round" />
<path d="M208.3,480.5 L245.3,466.3" fill="none" stroke="#222" stroke-width="1.3" stroke-linejoin="round" stroke-linecap="round" />
<polygon points="223.70,499.00 233.50,502.50 233.50,516.00 223.70,512.00" fill="#3a3a3a" stroke="#222" stroke-width="0.8" stroke-linejoin="round" />
<polygon points="233.50,502.50 241.70,499.50 241.70,512.50 233.50,516.00" fill="#606060" stroke="#222" stroke-width="0.8" stroke-linejoin="round" />
<polygon points="226.00,504.00 231.50,506.00 231.50,509.00 226.00,507.00" fill="#8a8a8a" stroke="#222" stroke-width="0.2" stroke-linejoin="round" />
<ellipse cx="231.7" cy="494" rx="6.3" ry="6.8" fill="#6a6a6a" stroke="#1a1a1a" stroke-width="1.5"/>
<ellipse cx="232.4" cy="494.6" rx="3.1" ry="3.6" fill="#c4c4c4" stroke="#222" stroke-width="0.6"/>
<line x1="243.80" y1="503.00" x2="243.80" y2="516.50" stroke="#222" stroke-width="1.6" stroke-linecap="round" />
<line x1="238.50" y1="505.50" x2="246.30" y2="503.60" stroke="#222" stroke-width="1.2" stroke-linecap="round" />
<line x1="256.50" y1="457.00" x2="256.50" y2="480.00" stroke="#262626" stroke-width="3.4" stroke-linecap="round" />
<line x1="256.30" y1="458.00" x2="256.30" y2="479.00" stroke="#8a8a8a" stroke-width="0.9" stroke-linecap="round" stroke-dasharray="2 1.6"/>
<line x1="273.50" y1="464.50" x2="273.50" y2="488.00" stroke="#262626" stroke-width="3.4" stroke-linecap="round" />
<line x1="273.30" y1="465.50" x2="273.30" y2="487.00" stroke="#8a8a8a" stroke-width="0.9" stroke-linecap="round" stroke-dasharray="2 1.6"/>
<line x1="292.00" y1="473.00" x2="292.00" y2="497.00" stroke="#262626" stroke-width="3.4" stroke-linecap="round" />
<line x1="291.80" y1="474.00" x2="291.80" y2="496.00" stroke="#8a8a8a" stroke-width="0.9" stroke-linecap="round" stroke-dasharray="2 1.6"/>
<line x1="259.00" y1="466.00" x2="263.00" y2="468.00" stroke="#222" stroke-width="2.2" stroke-linecap="round" />
<line x1="276.00" y1="474.00" x2="279.00" y2="475.50" stroke="#222" stroke-width="2.0" stroke-linecap="round" />
<path d="M247,476.5 L257,481.5 L277,501.8 L291,501.2" fill="none" stroke="#222" stroke-width="3.4" stroke-linejoin="round" stroke-linecap="round" />
<path d="M247,476.5 L257,481.5 L277,501.8 L291,501.2" fill="none" stroke="#b4b4b4" stroke-width="1.0" stroke-linejoin="round" stroke-linecap="round" />
<path d="M249,470.5 L258,475 L270,484 L282,494 L292,499" fill="none" stroke="#222" stroke-width="2.6" stroke-linejoin="round" stroke-linecap="round" />
<path d="M249,470.5 L258,475 L270,484 L282,494 L292,499" fill="none" stroke="#9a9a9a" stroke-width="0.7" stroke-linejoin="round" stroke-linecap="round" />
<polygon points="300.00,491.50 309.50,488.00 312.30,489.60 313.00,497.00 310.50,499.80 301.00,503.50" fill="#909090" stroke="#222" stroke-width="1.0" stroke-linejoin="round" />
<ellipse cx="311" cy="494" rx="2.2" ry="5.2" fill="#4a4a4a" stroke="#222" stroke-width="0.7"/>
<polygon points="303.00,502.70 309.00,500.40 309.00,503.00 304.00,505.00" fill="#333" stroke="#222" stroke-width="0.4" stroke-linejoin="round" />
<polygon points="282.00,482.50 290.00,479.50 290.00,489.50 282.00,492.50" fill="#4a4a4a" stroke="#222" stroke-width="0.6" stroke-linejoin="round" />
<polygon points="266.00,473.50 272.00,471.30 272.00,480.50 266.00,482.70" fill="#4a4a4a" stroke="#222" stroke-width="0.6" stroke-linejoin="round" />
<ellipse cx="262.3" cy="479.2" rx="4.4" ry="5.0" fill="#2e2e2e" stroke="#1a1a1a" stroke-width="1.2"/>
<ellipse cx="263.0" cy="479.4" rx="2.1" ry="2.6" fill="#e0e0e0" stroke="#222" stroke-width="0.6"/>
<ellipse cx="278" cy="488.6" rx="4.664" ry="5.3" fill="#2e2e2e" stroke="#1a1a1a" stroke-width="1.2"/>
<ellipse cx="278.7" cy="488.8" rx="2.226" ry="2.756" fill="#e0e0e0" stroke="#222" stroke-width="0.6"/>
<ellipse cx="295.6" cy="498.8" rx="5.104" ry="5.8" fill="#2e2e2e" stroke="#1a1a1a" stroke-width="1.2"/>
<ellipse cx="296.3" cy="499.0" rx="2.436" ry="3.016" fill="#e0e0e0" stroke="#222" stroke-width="0.6"/>
<defs><linearGradient id="chv" x1="0" y1="0" x2="1" y2="0"><stop offset="0" stop-color="#9a9a9a"/><stop offset="0.35" stop-color="#f4f4f4"/><stop offset="0.7" stop-color="#c4c4c4"/><stop offset="1" stop-color="#8c8c8c"/></linearGradient><linearGradient id="chh" x1="0" y1="0" x2="0.35" y2="1"><stop offset="0" stop-color="#a8a8a8"/><stop offset="0.3" stop-color="#ececec"/><stop offset="0.7" stop-color="#b4b4b4"/><stop offset="1" stop-color="#6e6e6e"/></linearGradient></defs>
<polygon points="408.00,481.00 418.00,475.00 445.50,473.00 462.40,467.50 462.40,473.50 408.50,505.50" fill="#a2a2a2" stroke="#222" stroke-width="0.6" stroke-linejoin="round" />
<polygon points="408.50,504.50 462.40,472.50 462.40,477.50 409.00,509.30 406.00,509.60" fill="#333" stroke="#222" stroke-width="0.5" stroke-linejoin="round" />
<polygon points="443.00,436.00 460.50,428.60 462.40,429.60 445.00,437.00" fill="#cfcfcf" stroke="#222" stroke-width="0.6" stroke-linejoin="round" />
<polygon points="443.00,436.00 445.00,437.00 445.50,473.30 443.00,472.30" fill="#3c3c3c" stroke="#222" stroke-width="0.6" stroke-linejoin="round" />
<polygon points="445.00,437.00 462.40,429.60 462.40,467.50 445.50,473.30" fill="#9c9c9c" stroke="#222" stroke-width="1.5" stroke-linejoin="round" />
<polygon points="449.00,441.50 458.50,437.50 458.50,441.50 449.00,445.50" fill="#3c3c3c" stroke="#222" stroke-width="0.3" stroke-linejoin="round" />
<polygon points="446.00,473.30 449.00,472.20 449.00,478.00 446.00,479.00" fill="#2c2c2c" stroke="#222" stroke-width="0.3" stroke-linejoin="round" />
<polygon points="458.50,469.00 462.40,467.50 462.40,475.50 458.50,477.00" fill="#2c2c2c" stroke="#222" stroke-width="0.3" stroke-linejoin="round" />
<path d="M438,428.5 C440,425.5 447,425 449.5,428 C451,431 451,435 449.5,438 L441,441 Z" fill="#d4d4d4" stroke="#222" stroke-width="0.8" stroke-linejoin="round" stroke-linecap="round" />
<polygon points="415.00,458.00 445.00,449.00 445.00,473.50 418.00,482.00 408.00,486.00 408.00,470.00" fill="#a4a4a4" stroke="#222" stroke-width="0.6" stroke-linejoin="round" />
<polygon points="434.00,462.00 444.50,458.50 444.50,471.00 434.00,474.50" fill="#cdcdcd" stroke="#222" stroke-width="0.4" stroke-linejoin="round" />
<polygon points="402.50,446.00 417.00,435.00 428.00,431.40 433.00,449.00 416.00,461.00" fill="url(#chh)" stroke="#222" stroke-width="0.8" stroke-linejoin="round" />
<path d="M424.5,440 C423.5,430 431,425.5 438,428 C443.5,430.5 444.5,440 443.5,451 L439,457 C431,458 426,451 424.5,440 Z" fill="#353535" stroke="#222" stroke-width="0.8" stroke-linejoin="round" stroke-linecap="round" />
<path d="M428.5,439 C428,433 433,430 437.5,432 C440.5,434 441,442 440,450" fill="none" stroke="#9a9a9a" stroke-width="1.2" stroke-linejoin="round" stroke-linecap="round" />
<path d="M431.5,441 C431.5,436 435,434.5 437.5,436.5" fill="none" stroke="#6e6e6e" stroke-width="0.8" stroke-linejoin="round" stroke-linecap="round" />
<polygon points="364.00,460.80 401.00,447.00 402.00,462.00 366.00,474.50" fill="url(#chh)" stroke="#222" stroke-width="0.9" stroke-linejoin="round" />
<polygon points="380.00,469.50 402.00,460.50 402.00,463.00 380.00,472.00" fill="#fafafa" stroke="#222" stroke-width="0.3" stroke-linejoin="round" />
<polygon points="384.00,471.50 402.00,464.50 402.00,474.00 386.00,480.00" fill="#cacaca" stroke="#222" stroke-width="0.7" stroke-linejoin="round" />
<rect x="386.5" y="462.8" width="4" height="4.2" fill="#ededed" stroke="#333" stroke-width="0.5" transform="rotate(-20 388 465)"/>
<polygon points="388.00,474.50 418.00,464.00 420.00,482.00 408.00,488.00 398.00,478.00" fill="#b2b2b2" stroke="#222" stroke-width="0.6" stroke-linejoin="round" />
<path d="M401,481.5 L401,450 C401,444.5 404,441.5 409,442.5 L416.2,447 L416.2,477 Z" fill="url(#chv)" stroke="#222" stroke-width="0.9" stroke-linejoin="round" stroke-linecap="round" />
<path d="M401.2,464 C406,466.5 411,465.5 416,462" fill="none" stroke="#222" stroke-width="0.8" stroke-linejoin="round" stroke-linecap="round" />
<path d="M401.3,472.5 C406,475 411,474 416,470.5" fill="none" stroke="#222" stroke-width="0.8" stroke-linejoin="round" stroke-linecap="round" />
<ellipse cx="360.3" cy="469" rx="5.8" ry="7.8" fill="#8a8a8a" stroke="#222" stroke-width="1.1" transform="rotate(-12 360.3 469)"/>
<polygon points="357.50,457.00 360.50,455.80 362.50,459.50 361.00,463.00 358.00,462.50" fill="#222" stroke="#222" stroke-width="0.4" stroke-linejoin="round" />
<polygon points="366.00,458.50 370.00,457.00 371.00,460.00 367.50,462.00" fill="#333" stroke="#222" stroke-width="0.4" stroke-linejoin="round" />
<line x1="365.50" y1="461.00" x2="365.50" y2="474.00" stroke="#333" stroke-width="1.6" stroke-linecap="round" />
<path d="M380,488 C381,479 389,474 397.5,477 C404.5,480 408.5,490 408.3,507 L406,509.6 L370,494.2 L371.5,490.5 Z" fill="#8c8c8c" stroke="#222" stroke-width="1.1" stroke-linejoin="round" stroke-linecap="round" />
<path d="M386,491 C387,485 392,482 397,484 C402,486.5 404.5,494 404.5,504" fill="none" stroke="#333" stroke-width="0.8" stroke-linejoin="round" stroke-linecap="round" />
<path d="M378.5,491 C384,487.5 390,489 393,494" fill="none" stroke="#333" stroke-width="0.7" stroke-linejoin="round" stroke-linecap="round" />
<line x1="392.00" y1="493.00" x2="381.00" y2="501.50" stroke="#333" stroke-width="0.7" stroke-linecap="round" />
<line x1="370.00" y1="494.20" x2="406.00" y2="509.60" stroke="#222" stroke-width="1.6" stroke-linecap="round" />
<polygon points="404.00,504.00 408.30,503.00 408.30,509.00 405.50,510.30" fill="#2a2a2a" stroke="#222" stroke-width="0.3" stroke-linejoin="round" />
<ellipse cx="372.5" cy="483" rx="6.8" ry="8.2" fill="#5c5c5c" stroke="#222" stroke-width="1" transform="rotate(-15 372.5 483)"/>
<path d="M369,476 C373,474 378,476 379.5,481" fill="none" stroke="#222" stroke-width="1.0" stroke-linejoin="round" stroke-linecap="round" />
<line x1="363.50" y1="481.30" x2="369.50" y2="479.00" stroke="#141414" stroke-width="3.2" stroke-linecap="round" />
<line x1="367.30" y1="489.60" x2="373.30" y2="487.30" stroke="#141414" stroke-width="3.2" stroke-linecap="round" />
<line x1="366.00" y1="474.50" x2="371.00" y2="477.00" stroke="#222" stroke-width="1.8" stroke-linecap="round" />
<polygon points="417.50,454.70 433.30,448.80 433.80,471.00 418.00,476.80" fill="#9c9c9c" stroke="#222" stroke-width="1.5" stroke-linejoin="round" />
<polygon points="421.50,457.00 430.50,453.60 430.50,458.00 421.50,461.30" fill="#4a4a4a" stroke="#222" stroke-width="0.4" stroke-linejoin="round" />
<polygon points="423.50,457.90 428.50,456.00 428.50,458.00 423.50,459.80" fill="#dcdcdc" stroke="#222" stroke-width="0.2" stroke-linejoin="round" />
<polygon points="524.00,392.00 532.67,390.67 532.67,406.00 524.00,404.00" fill="#9a9a9a" stroke="#222" stroke-width="0.8" stroke-linejoin="round" />
<polygon points="525.73,394.40 532.67,393.33 532.67,397.33 525.73,398.13" fill="#3c3c3c" stroke="#222" stroke-width="0.3" stroke-linejoin="round" />
<polygon points="525.73,400.00 532.67,399.07 532.67,402.67 525.73,403.07" fill="#d8d8d8" stroke="#222" stroke-width="0.3" stroke-linejoin="round" />
<line x1="480.00" y1="416.00" x2="498.70" y2="422.70" stroke="#444" stroke-width="0.7" stroke-linecap="round" />
<polygon points="514.67,431.33 523.33,428.67 532.67,426.00 532.67,449.33 529.33,450.67 526.00,446.67 523.33,446.00 516.67,450.00 515.07,446.67" fill="#2e2e2e" stroke="#222" stroke-width="0.5" stroke-linejoin="round" />
<polygon points="516.67,438.67 522.67,436.67 522.67,440.67 516.67,442.67" fill="#e8e8e8" stroke="#222" stroke-width="0.2" stroke-linejoin="round" />
<polygon points="524.67,436.00 530.00,434.40 530.00,438.67 524.67,440.27" fill="#dcdcdc" stroke="#222" stroke-width="0.2" stroke-linejoin="round" />
<polygon points="518.27,444.00 527.33,441.60 527.33,444.67 518.27,447.07" fill="#f0f0f0" stroke="#222" stroke-width="0.2" stroke-linejoin="round" />
<polygon points="528.67,440.67 532.67,439.60 532.67,446.67 528.67,447.33" fill="#cfcfcf" stroke="#222" stroke-width="0.2" stroke-linejoin="round" />
<polygon points="508.67,420.00 528.67,422.40 531.33,433.33 514.00,440.67 502.00,436.00" fill="#555" stroke="#222" stroke-width="0.7" stroke-linejoin="round" />
<polygon points="510.00,424.67 520.67,422.00 526.00,426.00 514.67,429.33" fill="#222" stroke="#222" stroke-width="0.4" stroke-linejoin="round" />
<polygon points="514.00,420.00 527.33,421.60 528.67,423.33 522.00,421.33" fill="#bbb" stroke="#222" stroke-width="0.3" stroke-linejoin="round" />
<polygon points="482.67,429.60 500.00,422.00 511.33,428.67 502.00,436.27" fill="#d2d2d2" stroke="#222" stroke-width="0.8" stroke-linejoin="round" />
<polygon points="482.67,430.67 502.00,437.33 502.00,452.67 483.33,447.33" fill="url(#hatch)" stroke="#222" stroke-width="0.9" stroke-linejoin="round" />
<polygon points="502.00,437.33 503.33,436.53 503.33,451.33 502.00,452.67" fill="#333" stroke="#222" stroke-width="0.4" stroke-linejoin="round" />
<polygon points="502.00,436.00 514.00,440.67 514.00,442.67 502.00,437.60" fill="#444" stroke="#222" stroke-width="0.4" stroke-linejoin="round" />
<line x1="514.00" y1="441.00" x2="514.00" y2="451.00" stroke="#222" stroke-width="1.2" stroke-linecap="round" />
<polygon points="497.33,412.67 504.00,410.00 505.33,420.00 498.67,422.67" fill="#777" stroke="#222" stroke-width="0.7" stroke-linejoin="round" />
<polygon points="504.00,411.33 512.93,408.67 514.00,420.00 505.33,423.33" fill="#3a3a3a" stroke="#222" stroke-width="0.9" stroke-linejoin="round" />
<polygon points="506.00,413.33 512.00,411.47 512.67,418.93 506.80,421.07" fill="#bdbdbd" stroke="#222" stroke-width="0.4" stroke-linejoin="round" />
<polygon points="497.33,412.67 506.00,409.60 512.93,408.67 504.00,411.33" fill="#aaa" stroke="#222" stroke-width="0.5" stroke-linejoin="round" />
<polygon points="498.67,422.40 505.33,423.33 506.67,425.07 500.00,424.27" fill="#333" stroke="#222" stroke-width="0.4" stroke-linejoin="round" />
<text x="133.30" y="108.00" font-size="14" textLength="52.30" lengthAdjust="spacingAndGlyphs">Outside air</text>
<text x="133.50" y="122.50" font-size="14" textLength="28.40" lengthAdjust="spacingAndGlyphs">intake</text>
<text x="368.50" y="100.00" font-size="14" textLength="66.50" lengthAdjust="spacingAndGlyphs">Cooling tower</text>
<text x="217.00" y="207.50" font-size="14" textLength="26.00" lengthAdjust="spacingAndGlyphs">Ducts</text>
<text x="392.50" y="210.50" font-size="14" textLength="37.50" lengthAdjust="spacingAndGlyphs">Diffuser</text>
<text x="319.00" y="303.60" font-size="14" textLength="62.20" lengthAdjust="spacingAndGlyphs">Terminal unit</text>
<text x="177.20" y="387.30" font-size="14" textLength="53.50" lengthAdjust="spacingAndGlyphs">Air handler</text>
<text x="396.00" y="375.00" font-size="14" textLength="99.00" lengthAdjust="spacingAndGlyphs">Energy management</text>
<text x="396.00" y="389.00" font-size="14" textLength="33.00" lengthAdjust="spacingAndGlyphs">system</text>
<text x="233.20" y="414.50" font-size="14" textLength="116.00" lengthAdjust="spacingAndGlyphs">Pumps for chilled water,</text>
<text x="233.20" y="430.50" font-size="14" textLength="140.00" lengthAdjust="spacingAndGlyphs">hot water, and cooling tower</text>
<text x="95.75" y="463.75" font-size="14" textLength="27.50" lengthAdjust="spacingAndGlyphs">Boiler</text>
<text x="338.75" y="517.50" font-size="14" textLength="31.00" lengthAdjust="spacingAndGlyphs">Chiller</text>
<path d="M125,106 C121,107 118,110 114,112 S109,115 106,117" fill="none" stroke="#222" stroke-width="1.6" stroke-linejoin="round" stroke-linecap="round" />
<path d="M362.5,95 C356,96 350,97.5 340,98.5" fill="none" stroke="#222" stroke-width="1.5" stroke-linejoin="round" stroke-linecap="round" />
<path d="M216.5,233 L230.6,210.5 L245.5,232.5" fill="none" stroke="#222" stroke-width="1.2" stroke-linejoin="round" stroke-linecap="round" />
<line x1="403.75" y1="213.75" x2="395.20" y2="247.50" stroke="#222" stroke-width="1.3" stroke-linecap="round" />
<line x1="316.00" y1="300.00" x2="306.00" y2="308.00" stroke="#222" stroke-width="1.4" stroke-linecap="round" />
<polygon points="303.00,310.50 309.00,308.50 306.50,305.00" fill="#111" stroke="#222" stroke-width="0.3" stroke-linejoin="round" />
<path d="M176,382.5 C168,379 160,374 152.5,370" fill="none" stroke="#222" stroke-width="1.5" stroke-linejoin="round" stroke-linecap="round" />
<line x1="500.50" y1="371.00" x2="511.80" y2="399.30" stroke="#222" stroke-width="1.2" stroke-linecap="round" />
<line x1="275.00" y1="433.75" x2="267.50" y2="475.00" stroke="#222" stroke-width="1.2" stroke-linecap="round" />
<path d="M127,460.5 C133,460.6 139,459.8 146,459.5" fill="none" stroke="#222" stroke-width="1.6" stroke-linejoin="round" stroke-linecap="round" />
<line x1="373.20" y1="514.30" x2="393.00" y2="494.70" stroke="#222" stroke-width="1.2" stroke-linecap="round" />
<rect x="533.3" y="0" width="67" height="600" fill="#fff"/>
</svg>
</body></html>
